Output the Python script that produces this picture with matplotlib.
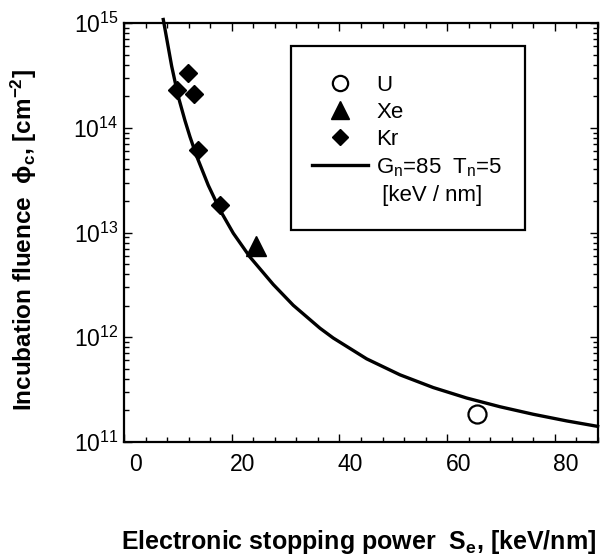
import numpy as np
import matplotlib
matplotlib.use('Agg')
import matplotlib.pyplot as plt
import matplotlib.transforms as mtransforms
from matplotlib.lines import Line2D
from matplotlib.patches import Rectangle
from matplotlib.ticker import MultipleLocator, LogLocator, NullFormatter

plt.rcParams['font.family'] = ['Liberation Sans', 'DejaVu Sans']
plt.rcParams['mathtext.fontset'] = 'custom'
plt.rcParams['mathtext.rm'] = 'Liberation Sans'
plt.rcParams['mathtext.bf'] = 'Liberation Sans:bold'
plt.rcParams['mathtext.it'] = 'Liberation Sans:italic'

# measured points
u_se = [65.5]
u_phi = [1.87e11]
xe_se = [24.5]
xe_phi = [7.5e12]
kr_se = [9.8, 11.8, 13.0, 13.8, 17.8]
kr_phi = [2.30e14, 3.33e14, 2.10e14, 6.15e13, 1.83e13]

# model curve (Gn=85, Tn=5)
fit_se = [7.29, 8.85, 10.08, 11.32, 12.25, 13.49, 15.65, 17.82, 20.29, 23.39,
          27.71, 31.42, 36.38, 38.85, 45.05, 51.23, 57.41, 63.61, 69.81,
          75.97, 82.17, 87.93]
fit_phi = [1.08e15, 3.87e14, 1.98e14, 1.17e14, 8.20e13, 5.35e13, 2.82e13,
           1.64e13, 9.84e12, 5.83e12, 3.19e12, 2.02e12, 1.22e12, 9.83e11,
           6.22e11, 4.38e11, 3.31e11, 2.63e11, 2.17e11, 1.84e11, 1.59e11,
           1.41e11]

x_ticks = [0, 20, 40, 60, 80]

fig = plt.figure(figsize=(6, 5.6), dpi=100)
ax = fig.add_axes([124 / 600, 118 / 560, 474 / 600, 419 / 560])

ax.plot(fit_se, fit_phi, color='black', lw=2.4, clip_on=False, zorder=2)
ax.plot(u_se, u_phi, 'o', ms=13, mfc='white', mec='black', mew=1.6, zorder=3)
ax.plot(xe_se, xe_phi, '^', ms=14, color='black', zorder=3)
ax.plot(kr_se, kr_phi, 'D', ms=9.2, color='black', zorder=3)

ax.set_yscale('log')
ax.set_xlim(0, 88)
ax.set_ylim(1e11, 1e15)
ax.set_xticks(x_ticks)
ax.xaxis.set_minor_locator(MultipleLocator(4))
ax.yaxis.set_major_locator(LogLocator(base=10, numticks=10))
ax.yaxis.set_minor_locator(LogLocator(base=10, subs=np.arange(2, 10), numticks=20))
ax.yaxis.set_minor_formatter(NullFormatter())

for s in ax.spines.values():
    s.set_linewidth(1.6)
ax.tick_params(which='both', direction='in', top=True, right=True, width=1.0)
ax.tick_params(which='major', length=6, labelsize=16.5)
ax.tick_params(which='minor', length=3.5)
ax.tick_params(axis='x', which='major', pad=8)
ax.tick_params(axis='y', which='major', pad=4)

# x tick labels sit a bit right of their ticks in the original
offset = mtransforms.ScaledTranslation(11 / 100, 0, fig.dpi_scale_trans)
for lab in ax.get_xticklabels():
    lab.set_transform(lab.get_transform() + offset)

ax.set_ylabel('Incubation fluence  ϕ$_{\\mathbf{c}}$, [cm$^{\\mathbf{-2}}$]',
              fontsize=17.5, fontweight='bold')
ax.yaxis.set_label_coords(-0.180, 0.482)
fig.text(0.597, 0.032, 'Electronic stopping power  S$_{\\mathbf{e}}$, [keV/nm]',
         fontsize=18, fontweight='bold', ha='center', va='center')

# legend box drawn separately so its padding can match the original
box = Rectangle((0.352, 0.506), 0.494, 0.439, transform=ax.transAxes,
                fill=False, edgecolor='black', lw=1.6, zorder=4)
ax.add_patch(box)

handles = [
    Line2D([], [], ls='none', marker='o', ms=11, mfc='white', mec='black', mew=1.6),
    Line2D([], [], ls='none', marker='^', ms=13, color='black'),
    Line2D([], [], ls='none', marker='D', ms=8.5, color='black'),
    Line2D([], [], color='black', lw=2.4),
    Line2D([], [], ls='none'),
]
labels = ['U', 'Xe', 'Kr', 'G$_{\\mathrm{n}}$=85  T$_{\\mathrm{n}}$=5', ' [keV / nm]']
leg = ax.legend(handles, labels, loc='upper left',
                bbox_to_anchor=((312 - 124) / 474, (442 - 75) / 419),
                borderaxespad=0, borderpad=0, fontsize=16, frameon=False,
                handlelength=2.5, handletextpad=0.4, labelspacing=0.27)

fig.savefig('out.png', dpi=100)
